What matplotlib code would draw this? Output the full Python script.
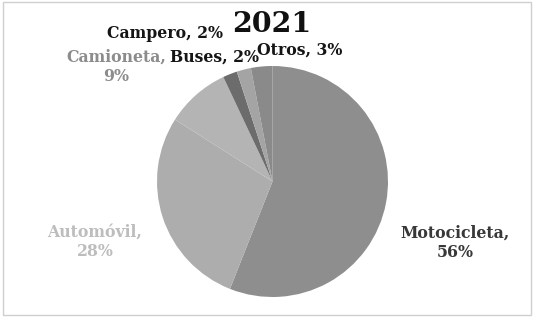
import matplotlib
matplotlib.use("Agg")
import matplotlib.pyplot as plt
from matplotlib.patches import Rectangle

title = "2021"
categories = ["Motocicleta", "Automóvil", "Camioneta", "Buses", "Campero", "Otros"]
values = [56, 28, 9, 2, 2, 3]
label_texts = ["Motocicleta,\n56%", "Automóvil,\n28%", "Camioneta,\n9%",
               "Buses, 2%", "Campero, 2%", "Otros, 3%"]
slice_colors = ["#8e8e8e", "#adadad", "#b4b4b4", "#6c6c6c", "#a4a4a4", "#8a8a8a"]
label_colors = ["#383838", "#bdbdbd", "#8c8c8c", "#151515", "#151515", "#151515"]
# label anchor positions in pixels (x, y from top) - layout only
label_pos = [(455, 243), (95, 242), (116, 67), (214, 57), (165, 33), (300, 50)]

W, H = 534, 319
fig = plt.figure(figsize=(W / 100, H / 100), dpi=100)
fig.patch.set_facecolor("white")

cx, cy, r = 272.5, 181.5, 115.5
ax = fig.add_axes([(cx - r) / W, (H - cy - r) / H, 2 * r / W, 2 * r / H])
wedges, _ = ax.pie(values, colors=slice_colors, startangle=90, counterclock=False,
                   radius=1.0, wedgeprops=dict(linewidth=0))
ax.set_xlim(-1, 1)
ax.set_ylim(-1, 1)
ax.set_aspect("equal")
ax.axis("off")

serif = ["DejaVu Serif"]
for txt, col, (px, py) in zip(label_texts, label_colors, label_pos):
    fig.text(px / W, 1 - py / H, txt, ha="center", va="center", color=col,
             fontsize=11.3, fontweight="bold", family=serif, linespacing=1.2)

fig.text(272 / W, 1 - 25 / H, title, ha="center", va="center", fontsize=20.5,
         fontweight="bold", family=serif, color="#111111")

fig.add_artist(Rectangle((3 / W, 4 / H), 1 - 6 / W, 1 - 6 / H, transform=fig.transFigure,
                         fill=False, edgecolor="#cfcfcf", linewidth=1))

fig.savefig("out.png", dpi=100, facecolor="white")
